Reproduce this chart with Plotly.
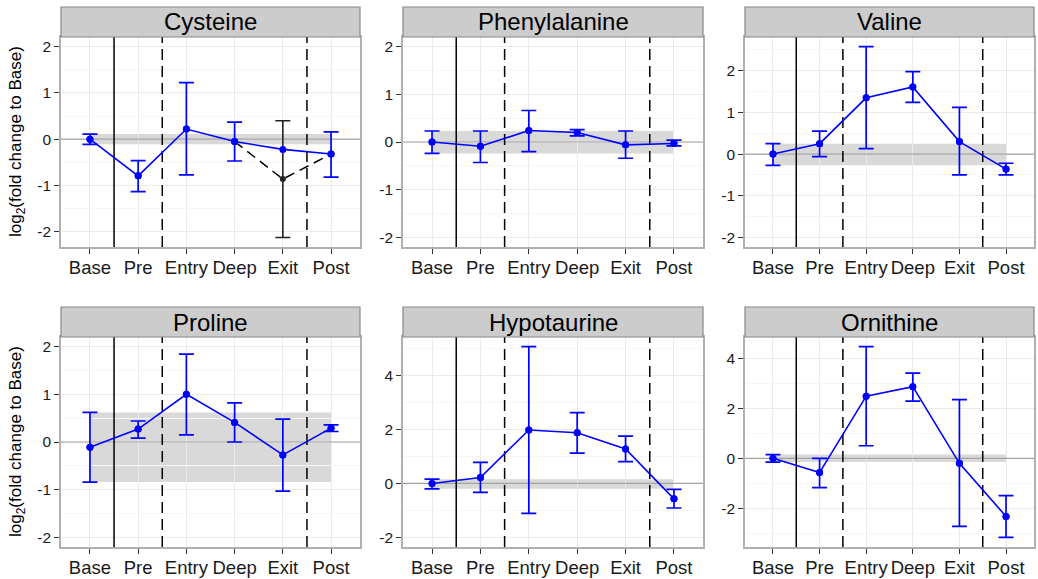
import math
import plotly.graph_objects as go

# ---- data -------------------------------------------------------------
stages = ["Base", "Pre", "Entry", "Deep", "Exit", "Post"]
metabolites = ["Cysteine", "Phenylalanine", "Valine", "Proline", "Hypotaurine", "Ornithine"]

# mean log2 fold change and lower / upper interval limits per stage
cys_mean = [0.00, -0.79, 0.22, -0.05, -0.22, -0.32]
cys_lo = [-0.11, -1.13, -0.77, -0.47, None, -0.82]
cys_hi = [0.11, -0.46, 1.22, 0.37, None, 0.16]

phe_mean = [0.00, -0.09, 0.24, 0.20, -0.06, -0.03]
phe_lo = [-0.24, -0.43, -0.20, 0.13, -0.34, -0.08]
phe_hi = [0.23, 0.23, 0.66, 0.26, 0.23, 0.04]

val_mean = [0.00, 0.25, 1.35, 1.61, 0.30, -0.36]
val_lo = [-0.27, -0.06, 0.13, 1.24, -0.50, -0.50]
val_hi = [0.25, 0.55, 2.58, 1.98, 1.12, -0.22]

pro_mean = [-0.11, 0.27, 1.00, 0.41, -0.27, 0.29]
pro_lo = [-0.84, 0.08, 0.15, 0.00, -1.03, 0.22]
pro_hi = [0.62, 0.44, 1.84, 0.82, 0.48, 0.36]

hyp_mean = [0.00, 0.22, 1.98, 1.88, 1.28, -0.57]
hyp_lo = [-0.20, -0.33, -1.11, 1.12, 0.81, -0.91]
hyp_hi = [0.16, 0.78, 5.07, 2.62, 1.75, -0.22]

orn_mean = [0.00, -0.57, 2.48, 2.86, -0.20, -2.32]
orn_lo = [-0.15, -1.17, 0.50, 2.28, -2.72, -3.16]
orn_hi = [0.15, 0.00, 4.46, 3.40, 2.34, -1.49]

# alternative cysteine trajectory (Deep -> Exit -> Post)
cys_alt_stages = ["Deep", "Exit", "Post"]
cys_alt_mean = [-0.05, -0.86, -0.32]
cys_alt_lo = [None, -2.12, None]
cys_alt_hi = [None, 0.40, None]

series = {
    "Cysteine": (cys_mean, cys_lo, cys_hi),
    "Phenylalanine": (phe_mean, phe_lo, phe_hi),
    "Valine": (val_mean, val_lo, val_hi),
    "Proline": (pro_mean, pro_lo, pro_hi),
    "Hypotaurine": (hyp_mean, hyp_lo, hyp_hi),
    "Ornithine": (orn_mean, orn_lo, orn_hi),
}

# y tick spacing per panel
tick_step = {"Cysteine": 1, "Phenylalanine": 1, "Valine": 1, "Proline": 1,
             "Hypotaurine": 2, "Ornithine": 2}

# phase boundaries: solid between Base and Pre, dashed around the dive
boundaries = [(1.5, "solid"), (2.5, "11px,6px"), (5.5, "11px,6px")]

# ---- layout geometry (pixels) -----------------------------------------
W, H = 1038, 579
col_px = [(61, 360), (403, 703), (745, 1034)]
row_px = [(37, 247), (337, 547)]   # plot area top/bottom
strip_h = 30
XRANGE = [0.4, 6.6]

BLUE = "#0000FF"
FONT = "Liberation Sans, Arial, Helvetica, sans-serif"

fig = go.Figure()
layout = dict(
    width=W, height=H, margin=dict(l=0, r=0, t=0, b=0),
    paper_bgcolor="white", plot_bgcolor="white", showlegend=False,
    font=dict(family=FONT, color="black"),
)
shapes, annotations = [], []
xpos = list(range(1, len(stages) + 1))


def err_trace(xs, means, los, his, xa, ya, color, msize, thick):
    pts = [(x, m, l, h) for x, m, l, h in zip(xs, means, los, his) if l is not None]
    return go.Scatter(
        x=[p[0] for p in pts], y=[p[1] for p in pts], xaxis=xa, yaxis=ya,
        mode="markers", marker=dict(color=color, size=msize),
        error_y=dict(type="data", symmetric=False,
                     array=[p[3] - p[1] for p in pts],
                     arrayminus=[p[1] - p[2] for p in pts],
                     color=color, thickness=thick, width=7.5),
        hoverinfo="skip")


for i, name in enumerate(metabolites):
    r, c = divmod(i, 3)
    n = "" if i == 0 else str(i + 1)
    xa, ya = "x" + n, "y" + n
    x0p, x1p = col_px[c]
    t, b = row_px[r]
    xdom = [x0p / W, x1p / W]
    ydom = [1 - b / H, 1 - t / H]

    mean, lo, hi = series[name]
    vals = [v for v in mean + lo + hi if v is not None] + [-2, 2]
    if name == "Cysteine":
        vals += [v for v in cys_alt_mean + cys_alt_lo + cys_alt_hi if v is not None]
    vmin, vmax = min(vals), max(vals)
    pad = 0.05 * (vmax - vmin)
    yrange = [vmin - pad, vmax + pad]

    step = tick_step[name]
    tvals = []
    v = math.ceil(yrange[0] / step) * step
    while v <= yrange[1]:
        tvals.append(v)
        v += step
    minor_vals = [tv + step / 2 for tv in [tvals[0] - step] + tvals]

    layout["xaxis" + n] = dict(
        domain=xdom, anchor=ya, range=XRANGE,
        tickmode="array", tickvals=xpos, ticktext=stages,
        showgrid=True, gridcolor="#EBEBEB", gridwidth=1,
        showline=True, mirror=True, linecolor="#B0B0B0", linewidth=1.5,
        ticks="outside", ticklen=5, tickwidth=1.3, tickcolor="#333333",
        ticklabelstandoff=-2,
        tickfont=dict(size=18.5, color="#1A1A1A", family=FONT),
        zeroline=False, fixedrange=True,
    )
    layout["yaxis" + n] = dict(
        domain=ydom, anchor=xa, range=yrange,
        tickmode="array", tickvals=tvals, ticktext=[str(int(tv)) for tv in tvals],
        showgrid=True, gridcolor="#EBEBEB", gridwidth=1,
        minor=dict(tickmode="array", tickvals=minor_vals,
                   showgrid=True, gridcolor="#F6F6F6", gridwidth=1, ticks=""),
        showline=True, mirror=True, linecolor="#B0B0B0", linewidth=1.5,
        ticks="outside", ticklen=5, tickwidth=1.3, tickcolor="#333333",
        tickfont=dict(size=15.5, color="#1A1A1A", family=FONT),
        zeroline=False, fixedrange=True,
    )

    # baseline variability band (Base interval carried across all stages)
    shapes.append(dict(type="rect", xref=xa, yref=ya, x0=1, x1=6,
                       y0=lo[0], y1=hi[0], fillcolor="rgba(150,150,150,0.36)",
                       line=dict(width=0), layer="below"))
    # facet strip
    shapes.append(dict(type="rect", xref="paper", yref="paper",
                       x0=xdom[0], x1=xdom[1],
                       y0=1 - t / H, y1=1 - (t - strip_h) / H,
                       fillcolor="#CCCCCC", line=dict(color="#888888", width=1.2)))
    annotations.append(dict(text=name, xref="paper", yref="paper",
                            x=(xdom[0] + xdom[1]) / 2,
                            y=1 - (t - strip_h / 2) / H,
                            xanchor="center", yanchor="middle", showarrow=False,
                            font=dict(size=24, color="black", family=FONT)))

    # zero reference line
    fig.add_trace(go.Scatter(
        x=XRANGE, y=[0, 0], xaxis=xa, yaxis=ya, mode="lines",
        line=dict(color="#A3A3A3", width=1.2), hoverinfo="skip"))
    # phase boundaries
    for xv, dash in boundaries:
        fig.add_trace(go.Scatter(
            x=[xv, xv], y=yrange, xaxis=xa, yaxis=ya, mode="lines",
            line=dict(color="black", width=1.5, dash=dash), hoverinfo="skip"))

    if name == "Cysteine":
        alt_x = [stages.index(s) + 1 for s in cys_alt_stages]
        fig.add_trace(go.Scatter(
            x=alt_x, y=cys_alt_mean, xaxis=xa, yaxis=ya, mode="lines",
            line=dict(color="black", width=1.5, dash="10px,6px"),
            hoverinfo="skip"))
        fig.add_trace(err_trace(alt_x, cys_alt_mean, cys_alt_lo, cys_alt_hi,
                                xa, ya, "#222222", 6, 1.6))

    # blue error bars (only where an interval exists), then the connecting line
    fig.add_trace(err_trace(xpos, mean, lo, hi, xa, ya, BLUE, 7, 1.7))
    fig.add_trace(go.Scatter(
        x=xpos, y=mean, xaxis=xa, yaxis=ya, mode="lines+markers",
        line=dict(color=BLUE, width=1.6), marker=dict(color=BLUE, size=7),
        hoverinfo="skip"))

# shared y-axis title for the left column
for t, b in row_px:
    annotations.append(dict(
        text="log<sub>2</sub>(fold change to Base)", xref="paper", yref="paper",
        x=17 / W, y=1 - (t + b) / 2 / H, textangle=-90,
        xanchor="center", yanchor="middle", showarrow=False,
        font=dict(size=17, color="black", family=FONT)))

layout["shapes"] = shapes
layout["annotations"] = annotations
fig.update_layout(**layout)
fig.write_html("out.html")
